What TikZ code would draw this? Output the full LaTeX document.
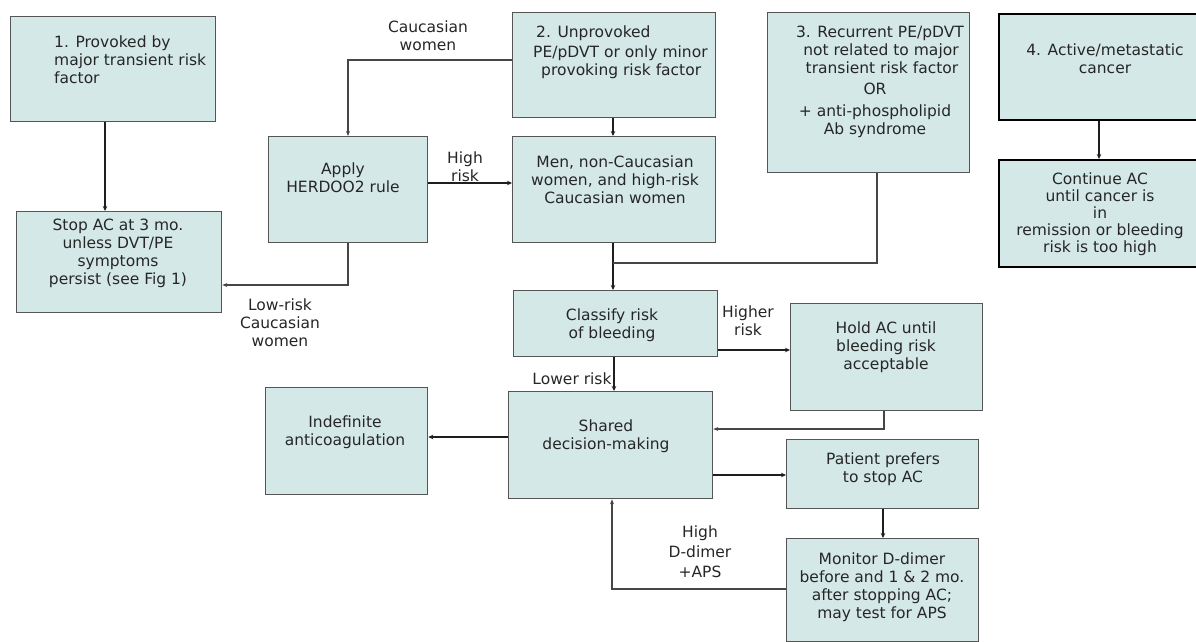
\documentclass[tikz,border=0pt]{standalone}
\usepackage{fontspec}
\setmainfont{DejaVu Sans}
\usetikzlibrary{arrows.meta}
\definecolor{boxfill}{RGB}{213,232,232}
\definecolor{boxline}{RGB}{85,85,85}
\definecolor{thinline}{RGB}{70,70,70}
\definecolor{thkline}{RGB}{30,30,30}
\tikzset{
  box/.style={draw=boxline, fill=boxfill, line width=1.3pt, inner sep=0pt, anchor=north west},
  boxb/.style={draw=black, fill=boxfill, line width=2.4pt, inner sep=0pt, anchor=north west},
  txt/.style={font=\fontsize{15.5}{18}\selectfont, align=center, inner sep=0pt, text=black!85},
  thk/.style={draw=thkline, line width=1.9pt, -{Stealth[length=5pt,width=4.5pt]}},
  thn/.style={draw=thinline, line width=1.1pt, -{Stealth[length=5pt,width=4pt]}},
  thnline/.style={draw=thinline, line width=1.1pt}
}
\newcommand\mybox[6]{\node[#6, minimum width={#4-#2}, minimum height={#5-#3}] (#1) at (#2,#3) {};}
\begin{document}
\begin{tikzpicture}[x=1pt,y=-1pt]
\useasboundingbox (0,0) rectangle (1196,642);
% boxes
\mybox{b1}{10}{16}{215}{121}{box}
\mybox{stop}{16}{211}{221}{312}{box}
\mybox{apply}{268}{136}{427}{242}{box}
\mybox{b2}{512}{12}{715}{117}{box}
\mybox{men}{512}{136}{715}{242}{box}
\mybox{b3}{767}{12}{969}{172}{box}
\mybox{b4}{998}{13}{1215}{119}{boxb}
\mybox{cont}{998}{159}{1215}{266}{boxb}
\mybox{classify}{513}{290}{717}{356}{box}
\mybox{hold}{790}{303}{982}{410}{box}
\mybox{indef}{265}{387}{427}{494}{box}
\mybox{shared}{508}{391}{712}{498}{box}
\mybox{patient}{786}{439}{978}{508}{box}
\mybox{monitor}{786}{538}{978}{641}{box}
% box texts
\node[txt, align=left, anchor=west] (t1) at (54,60) {1. Provoked by\\major transient risk\\factor};
\node[txt] (tstop) at (118,253) {Stop AC at 3 mo.\\unless DVT/PE\\symptoms\\persist (see Fig 1)};
\node[txt] (tapply) at (343,177.5) {Apply\\HERDOO2 rule};
\node[txt, align=left, anchor=west] (t2) at (533,52.5) {\hspace*{3pt}2. Unprovoked\\[2pt]PE/pDVT or only minor\\\hspace*{8pt}provoking risk factor};
\node[txt] (tmen) at (615,180) {Men, non-Caucasian\\women, and high-risk\\Caucasian women};
\node[txt] (t3) at (875,81.5) {\hspace*{10pt}3. Recurrent PE/pDVT\\\hspace*{12pt}not related to major\\\hspace*{14pt}transient risk factor\\[3pt]OR\\[4pt]+ anti-phospholipid\\Ab syndrome};
\node[txt] (t4) at (1105,58.5) {4. Active/metastatic\\cancer};
\node[txt, font=\fontsize{15.5}{17}\selectfont] (tcont) at (1100,214) {Continue AC\\until cancer is\\in\\remission or bleeding\\risk is too high};
\node[txt] (tclass) at (612,325) {Classify risk\\of bleeding};
\node[txt] (thold) at (886,347.5) {Hold AC until\\bleeding risk\\acceptable};
\node[txt] (tindef) at (345,432.5) {Indefinite\\anticoagulation};
\node[txt] (tshared) at (606,436) {Shared\\decision-making};
\node[txt] (tpat) at (883,469) {Patient prefers\\to stop AC};
\node[txt] (tmon) at (882,587) {Monitor D-dimer\\before and 1 \& 2 mo.\\after stopping AC;\\may test for APS};
% connector labels
\node[txt] (lcw) at (428,35.5) {Caucasian\\women};
\node[txt] (lhr) at (465,167) {High\\risk};
\node[txt] (llr) at (280,323) {Low-risk\\Caucasian\\women};
\node[txt] (lhigher) at (748,320.5) {Higher\\risk};
\node[txt] (llower) at (572,379) {Lower risk};
\node[txt, font=\fontsize{15.5}{20}\selectfont] (ldd) at (700,552) {High\\D-dimer\\+APS};
% helper coordinates
\coordinate (k1) at (105,0);
\coordinate (cw) at (348,60);
\coordinate (hr) at (0,183);
\coordinate (lr) at (0,285);
\coordinate (m) at (613,0);
\coordinate (k3) at (877,0);
\coordinate (j) at (613,263);
\coordinate (k4) at (1099,0);
\coordinate (hy) at (0,350);
\coordinate (kh) at (884,429);
\coordinate (kl) at (614,0);
\coordinate (ki) at (0,437);
\coordinate (kp) at (0,475);
\coordinate (km) at (883,0);
\coordinate (kd) at (612,589);
% connectors
\draw[thk] (b1.south -| k1) -- (stop.north -| k1);
\draw[thn] (b2.west |- cw) -| (apply.north -| cw);
\draw[thk] (apply.east |- hr) -- (men.west |- hr);
\draw[thn] (apply.south -| cw) |- (stop.east |- lr);
\draw[thk] (b2.south -| m) -- (men.north -| m);
\draw[thk] (men.south -| m) -- (classify.north -| m);
\draw[thnline] (b3.south -| k3) |- (j);
\draw[thk] (b4.south -| k4) -- (cont.north -| k4);
\draw[thk] (classify.east |- hy) -- (hold.west |- hy);
\draw[thn] (hold.south -| kh) |- (shared.east |- kh);
\draw[thk] (classify.south -| kl) -- (shared.north -| kl);
\draw[thk] (shared.west |- ki) -- (indef.east |- ki);
\draw[thk] (shared.east |- kp) -- (patient.west |- kp);
\draw[thk] (patient.south -| km) -- (monitor.north -| km);
\draw[thn] (monitor.west |- kd) -| (shared.south -| kd);
\end{tikzpicture}
\end{document}
